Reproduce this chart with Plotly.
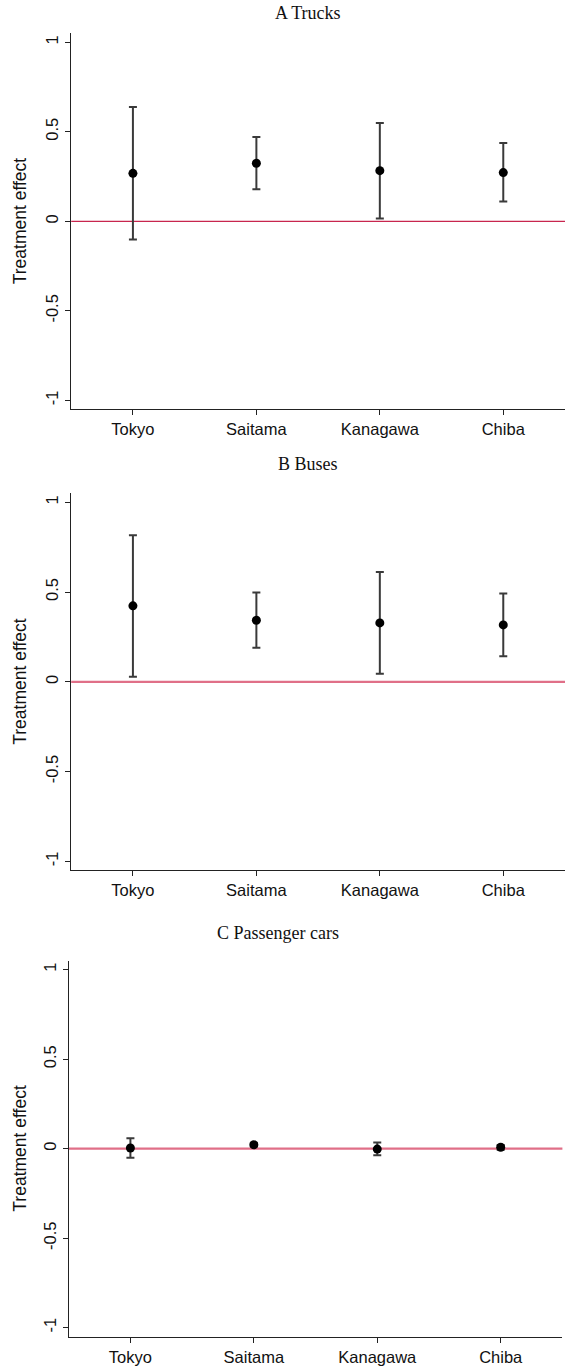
import plotly.graph_objects as go

# Regions (x-axis categories)
regions = ["Tokyo", "Saitama", "Kanagawa", "Chiba"]

# Panel A: trucks — point estimates and 95% CI bounds
trucks_est = [0.268, 0.324, 0.283, 0.272]
trucks_lo = [-0.102, 0.179, 0.015, 0.110]
trucks_hi = [0.639, 0.471, 0.549, 0.438]

# Panel B: buses
buses_est = [0.423, 0.343, 0.328, 0.317]
buses_lo = [0.028, 0.190, 0.045, 0.142]
buses_hi = [0.816, 0.497, 0.611, 0.492]

# Panel C: passenger cars
cars_est = [0.004, 0.022, -0.002, 0.008]
cars_lo = [-0.050, 0.012, -0.037, -0.006]
cars_hi = [0.058, 0.032, 0.035, 0.020]

panel_titles = ["A Trucks", "B Buses", "C Passenger cars"]
y_tickvals = [-1, -0.5, 0, 0.5, 1]
y_ticktext = ["-1", "-0.5", "0", "0.5", "1"]

W, H = 567, 1368

# pixel geometry of each panel: (left, right, top, bottom)
boxes = [
    (71.2, 565.0, 33.3, 409.3),
    (71.2, 565.0, 493.3, 870.3),
    (68.7, 562.4, 960.7, 1336.7),
]
title_pos = [(308, 13.5), (308, 463.5), (278, 933)]
zero_styles = [("#c8254e", 1.3), ("#e06f88", 2.2), ("#e06f88", 2.2)]

series = [
    (trucks_est, trucks_lo, trucks_hi),
    (buses_est, buses_lo, buses_hi),
    (cars_est, cars_lo, cars_hi),
]

fig = go.Figure()
axis_font = dict(family="Liberation Sans, Arial, sans-serif", size=16.5, color="#111")

for i, ((est, lo, hi), (l, r, t, b)) in enumerate(zip(series, boxes)):
    n = i + 1
    xa = "x" if n == 1 else f"x{n}"
    ya = "y" if n == 1 else f"y{n}"
    up = [h - e for h, e in zip(hi, est)]
    dn = [e - q for e, q in zip(est, lo)]
    fig.add_trace(go.Scatter(
        x=regions, y=est, mode="markers",
        marker=dict(color="black", size=9),
        error_y=dict(type="data", symmetric=False, array=up, arrayminus=dn,
                     color="#3a3a3a", thickness=2, width=4),
        xaxis=xa, yaxis=ya, showlegend=False,
    ))
    xdom = [l / W, r / W]
    ydom = [1 - b / H, 1 - t / H]
    xkey = "xaxis" if n == 1 else f"xaxis{n}"
    ykey = "yaxis" if n == 1 else f"yaxis{n}"
    fig.update_layout(**{
        xkey: dict(domain=xdom, anchor=ya, type="category", range=[-0.5, 3.5],
                   showline=True, linecolor="#222", linewidth=1.3,
                   ticks="outside", ticklen=5, tickcolor="#222", tickwidth=1.3,
                   showgrid=False, zeroline=False, tickfont=axis_font),
        ykey: dict(domain=ydom, anchor=xa, range=[-1.05, 1.05],
                   tickvals=y_tickvals, ticktext=y_ticktext, tickangle=-90,
                   showline=True, linecolor="#222", linewidth=1.3,
                   ticks="outside", ticklen=5, tickcolor="#222", tickwidth=1.3,
                   showgrid=False, zeroline=False, tickfont=axis_font),
    })
    # reference line at zero
    col, wid = zero_styles[i]
    fig.add_shape(type="line", xref=f"{xa} domain", yref=ya,
                  x0=0, x1=1, y0=0, y1=0, line=dict(color=col, width=wid),
                  layer="below")
    # y-axis title
    fig.add_annotation(text="Treatment effect", textangle=-90,
                       x=20 / W, y=1 - ((t + b) / 2) / H, xref="paper", yref="paper",
                       xanchor="center", yanchor="middle", showarrow=False,
                       font=dict(family="Liberation Sans, Arial, sans-serif", size=17.5, color="#111"))
    # panel title
    tx, ty = title_pos[i]
    fig.add_annotation(text=panel_titles[i], x=tx / W, y=1 - ty / H,
                       xref="paper", yref="paper", xanchor="center", yanchor="middle",
                       showarrow=False,
                       font=dict(family="Liberation Serif, Times New Roman, serif", size=18, color="#111"))

fig.update_layout(width=W, height=H, margin=dict(l=0, r=0, t=0, b=0),
                  paper_bgcolor="white", plot_bgcolor="white")

fig.write_html("out.html")
